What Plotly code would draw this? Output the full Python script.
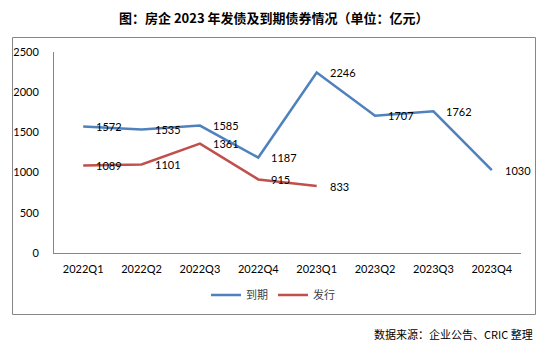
import plotly.graph_objects as go

categories = ["2022Q1", "2022Q2", "2022Q3", "2022Q4", "2023Q1", "2023Q2", "2023Q3", "2023Q4"]
due_values = [1572, 1535, 1585, 1187, 2246, 1707, 1762, 1030]
issue_categories = ["2022Q1", "2022Q2", "2022Q3", "2022Q4", "2023Q1"]
issue_values = [1089, 1101, 1361, 915, 833]
y_ticks = [0, 500, 1000, 1500, 2000, 2500]

BLUE = "#4F81BD"
RED = "#C0504D"
GRAY = "#868686"
NUM_FONT = "Lato, Liberation Sans, sans-serif"
CJK_FONT = "Noto Sans CJK SC, sans-serif"

fig = go.Figure()
fig.add_trace(go.Scatter(x=categories, y=due_values, mode="lines", name="到期",
                         line=dict(color=BLUE, width=2.5)))
fig.add_trace(go.Scatter(x=issue_categories, y=issue_values, mode="lines", name="发行",
                         line=dict(color=RED, width=2.5)))

annotations = []
for c, v in zip(categories, due_values):
    annotations.append(dict(x=c, y=v, xref="x", yref="y", text=str(v), showarrow=False,
                            xanchor="left", yanchor="middle", xshift=11,
                            font=dict(family=NUM_FONT, size=11, color="#000")))
for c, v in zip(issue_categories, issue_values):
    annotations.append(dict(x=c, y=v, xref="x", yref="y", text=str(v), showarrow=False,
                            xanchor="left", yanchor="middle", xshift=11,
                            font=dict(family=NUM_FONT, size=11, color="#000")))

annotations.append(dict(x=0.5, y=0.952, xref="paper", yref="paper", text="<b>图：房企 2023 年发债及到期债券情况（单位：亿元）</b>",
                        showarrow=False, xanchor="center", yanchor="middle",
                        font=dict(family=CJK_FONT, size=13, color="#000"),
                        ))
annotations.append(dict(x=535/547, y=(351-334)/351, xref="paper", yref="paper",
                        text="数据来源：企业公告、CRIC 整理", showarrow=False,
                        xanchor="right", yanchor="middle",
                        font=dict(family=CJK_FONT, size=11, color="#000")))

# fix paper-ref annotations: title and source use container-relative positions via yref paper
# convert to plot paper coordinates
plot_left, plot_right, plot_top, plot_bottom = 54, 521, 52, 253
def px_to_paper_x(px):
    return (px - plot_left) / (plot_right - plot_left)
def px_to_paper_y(py):
    return (plot_bottom - py) / (plot_bottom - plot_top)

annotations[-2]["x"] = px_to_paper_x(274)
annotations[-2]["y"] = px_to_paper_y(17)
annotations[-1]["x"] = px_to_paper_x(535)
annotations[-1]["y"] = px_to_paper_y(334)

fig.update_layout(
    width=547, height=351, autosize=False,
    margin=dict(l=plot_left, r=547 - plot_right, t=plot_top, b=351 - plot_bottom, pad=0),
    paper_bgcolor="white", plot_bgcolor="white",
    showlegend=True,
    legend=dict(orientation="h", x=px_to_paper_x(273), xanchor="center",
                y=px_to_paper_y(295), yanchor="middle",
                font=dict(family=CJK_FONT, size=11, color="#404040"),
                itemwidth=30, tracegroupgap=0, bgcolor="rgba(0,0,0,0)"),
    annotations=annotations,
    shapes=[dict(type="rect", xref="paper", yref="paper",
                 x0=px_to_paper_x(12.5), x1=px_to_paper_x(535.5),
                 y0=px_to_paper_y(314.5), y1=px_to_paper_y(37.5),
                 line=dict(color=GRAY, width=1), fillcolor="rgba(0,0,0,0)", layer="below")],
)
fig.update_xaxes(type="category", categoryorder="array", categoryarray=categories,
                 range=[-0.5, len(categories) - 0.5],
                 showline=True, linecolor=GRAY, linewidth=1, showgrid=False, zeroline=False,
                 ticks="outside", ticklen=6, tickcolor="rgba(0,0,0,0)",
                 tickfont=dict(family=NUM_FONT, size=11, color="#000"))
fig.update_yaxes(range=[0, 2500], tickvals=y_ticks, ticktext=[str(t) for t in y_ticks],
                 showline=True, linecolor=GRAY, linewidth=1, showgrid=False, zeroline=False,
                 ticks="outside", ticklen=12, tickcolor="rgba(0,0,0,0)",
                 tickfont=dict(family=NUM_FONT, size=11, color="#000"))

fig.write_html("out.html")
